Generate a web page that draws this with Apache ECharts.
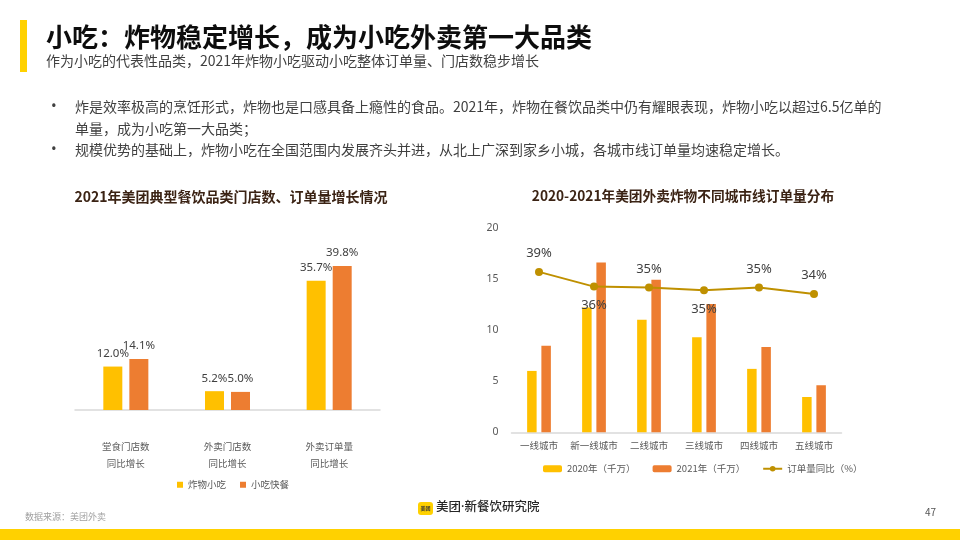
<!DOCTYPE html>
<html>
<head>
<meta charset="utf-8">
<script src="https://cdn.jsdelivr.net/npm/echarts@6/dist/echarts.min.js"></script>
<style>
html,body{margin:0;padding:0;background:#fff;}
#c{width:960px;height:540px;}
</style>
</head>
<body>
<div id="c"></div>
<script>
// ---- data ----
const leftCategories = ['堂食门店数\n同比增长', '外卖门店数\n同比增长', '外卖订单量\n同比增长'];
const leftSeriesNames = ['炸物小吃', '小吃快餐'];
const leftFried = [12.0, 5.2, 35.7];
const leftSnack = [14.1, 5.0, 39.8];

const rightCategories = ['一线城市', '新一线城市', '二线城市', '三线城市', '四线城市', '五线城市'];
const rightSeriesNames = ['2020年（千万）', '2021年（千万）', '订单量同比（%）'];
const orders2020 = [6.0, 12.2, 11.0, 9.3, 6.2, 3.45];
const orders2021 = [8.45, 16.6, 14.9, 12.55, 8.35, 4.6];
const growthPct = [39.2, 35.6, 35.4, 34.7, 35.4, 33.8];
const rightYTicks = [0, 5, 10, 15, 20];

const titleText = '小吃：炸物稳定增长，成为小吃外卖第一大品类';
const subtitleText = '作为小吃的代表性品类，2021年炸物小吃驱动小吃整体订单量、门店数稳步增长';
const bullet1a = '炸是效率极高的烹饪形式，炸物也是口感具备上瘾性的食品。2021年，炸物在餐饮品类中仍有耀眼表现，炸物小吃以超过6.5亿单的';
const bullet1b = '单量，成为小吃第一大品类；';
const bullet2 = '规模优势的基础上，炸物小吃在全国范围内发展齐头并进，从北上广深到家乡小城，各城市线订单量均速稳定增长。';
const leftTitle = '2021年美团典型餐饮品类门店数、订单量增长情况';
const rightTitle = '2020-2021年美团外卖炸物不同城市线订单量分布';
const sourceText = '数据来源：美团外卖';
const brandText = '美团·新餐饮研究院';
const pageNo = '47';

// ---- style ----
const FONT = '"Noto Sans CJK SC", "Noto Sans", sans-serif';
const LATIN_FIRST = '"Noto Sans", "Noto Sans CJK SC", sans-serif';
const YELLOW = '#FFC000', ORANGE = '#ED7D31', GOLD = '#BF9000', BRAND = '#FFD100';
const lineLabelPos = ['top', 'bottom', 'top', 'bottom', 'top', 'top'];

const chart = echarts.init(document.getElementById('c'), null, {renderer: 'canvas'});

function txt(x, y, text, size, color, weight, align, family) {
  return {type: 'text', x: x, y: y, silent: true, style: {
    text: text, fontSize: size, fill: color, fontWeight: weight || 'normal',
    fontFamily: family || FONT, align: align || 'left', verticalAlign: 'middle'}};
}

const option = {
  animation: false,
  textStyle: {fontFamily: FONT},
  graphic: [
    {type: 'rect', shape: {x: 20, y: 20, width: 7, height: 52}, style: {fill: BRAND}},
    txt(46, 37, titleText, 26, '#0d0d0d', 'bold'),
    txt(46, 61, subtitleText, 14, '#404040'),
    txt(51, 107, '•', 15, '#404040', 'normal', 'left', LATIN_FIRST),
    txt(75, 107, bullet1a, 14, '#404040'),
    txt(75, 129, bullet1b, 14, '#404040'),
    txt(51, 150, '•', 15, '#404040', 'normal', 'left', LATIN_FIRST),
    txt(75, 150, bullet2, 14, '#404040'),
    txt(231, 197, leftTitle, 14, '#3b2314', 'bold', 'center'),
    txt(683, 196, rightTitle, 13.7, '#3b2314', 'bold', 'center'),
    txt(25, 517, sourceText, 9, '#a0a0a0'),
    txt(936, 512, pageNo, 10, '#555555', 'normal', 'right'),
    {type: 'rect', shape: {x: 418, y: 502, width: 15, height: 13, r: 3}, style: {fill: BRAND}},
    txt(425.5, 508.5, '美团', 5, '#333', 'bold', 'center'),
    txt(436, 507.5, brandText, 12.5, '#262626', '500', 'left', LATIN_FIRST),
    {type: 'rect', shape: {x: 0, y: 529, width: 960, height: 11}, style: {fill: BRAND}}
  ],
  legend: [
    {
      data: leftSeriesNames, left: 172, top: 475, itemWidth: 6, itemHeight: 6, itemGap: 14,
      icon: 'rect', textStyle: {fontSize: 9.5, color: '#595959', fontFamily: FONT}
    },
    {
      data: rightSeriesNames, left: 538, top: 459, itemWidth: 19, itemHeight: 7, itemGap: 17,
      textStyle: {fontSize: 9.5, color: '#595959', fontFamily: FONT}
    }
  ],
  grid: [
    {left: 75, width: 305, top: 229, height: 181},
    {left: 511.5, width: 330, top: 227.7, height: 204.6}
  ],
  xAxis: [
    {
      type: 'category', gridIndex: 0, data: leftCategories,
      axisLine: {lineStyle: {color: '#d9d9d9', width: 1.5}}, axisTick: {show: false},
      axisLabel: {fontSize: 9.5, color: '#595959', lineHeight: 17, margin: 28, interval: 0}
    },
    {
      type: 'category', gridIndex: 1, data: rightCategories,
      axisLine: {lineStyle: {color: '#d9d9d9', width: 1.5}}, axisTick: {show: false},
      axisLabel: {fontSize: 9.5, color: '#595959', margin: 8, interval: 0}
    }
  ],
  yAxis: [
    {type: 'value', gridIndex: 0, min: 0, max: 50, show: false},
    {
      type: 'value', gridIndex: 1, min: rightYTicks[0], max: rightYTicks[rightYTicks.length - 1], interval: 5,
      axisLine: {show: false}, axisTick: {show: false}, splitLine: {show: false},
      axisLabel: {fontSize: 10.5, color: '#595959', margin: 13, fontFamily: LATIN_FIRST}
    },
    {type: 'value', gridIndex: 1, min: 0, max: 50, show: false}
  ],
  series: [
    {
      name: leftSeriesNames[0], type: 'bar', xAxisIndex: 0, yAxisIndex: 0, data: leftFried,
      barWidth: 19, barGap: '37%', itemStyle: {color: YELLOW},
      label: {show: true, position: 'top', distance: 7, fontSize: 11.5, color: '#404040', fontFamily: LATIN_FIRST,
        formatter: p => p.value.toFixed(1) + '%'}
    },
    {
      name: leftSeriesNames[1], type: 'bar', xAxisIndex: 0, yAxisIndex: 0, data: leftSnack,
      barWidth: 19, barGap: '37%', itemStyle: {color: ORANGE},
      label: {show: true, position: 'top', distance: 7, fontSize: 11.5, color: '#404040', fontFamily: LATIN_FIRST,
        formatter: p => p.value.toFixed(1) + '%'}
    },
    {
      name: rightSeriesNames[0], type: 'bar', xAxisIndex: 1, yAxisIndex: 1, data: orders2020,
      barWidth: 9.5, barGap: '50%', itemStyle: {color: YELLOW}
    },
    {
      name: rightSeriesNames[1], type: 'bar', xAxisIndex: 1, yAxisIndex: 1, data: orders2021,
      barWidth: 9.5, barGap: '50%', itemStyle: {color: ORANGE}
    },
    {
      name: rightSeriesNames[2], type: 'line', xAxisIndex: 1, yAxisIndex: 2,
      data: growthPct.map((v, i) => ({value: v, label: {position: lineLabelPos[i]}})),
      symbol: 'circle', symbolSize: 8, z: 5,
      lineStyle: {color: GOLD, width: 2}, itemStyle: {color: GOLD},
      label: {show: true, distance: 8, fontSize: 13, color: '#404040', fontFamily: LATIN_FIRST,
        formatter: p => Math.round(p.value) + '%'}
    }
  ]
};
chart.setOption(option);
</script>
</body>
</html>
